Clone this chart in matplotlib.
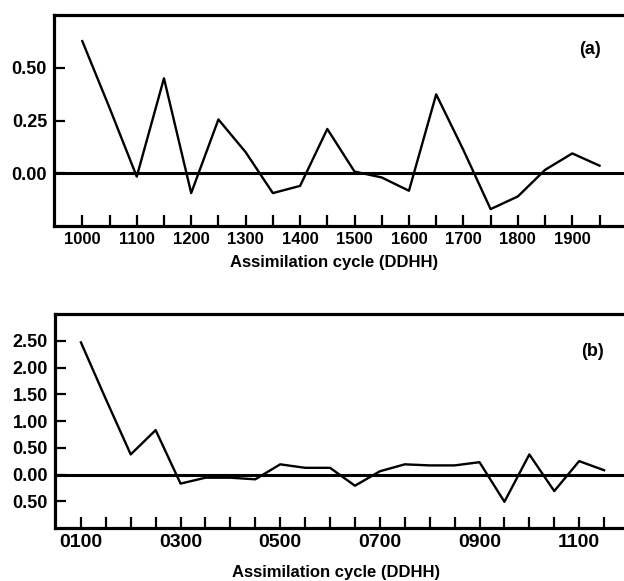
import matplotlib
matplotlib.use('Agg')
import matplotlib.pyplot as plt
from matplotlib.ticker import FixedLocator

plt.rcParams['font.family'] = ['Liberation Sans', 'DejaVu Sans']
plt.rcParams['font.weight'] = 'bold'
plt.rcParams['font.size'] = 12

# panel (a) - cycles every 6 h, labelled DDHH
cycles_a = [1000, 1050, 1100, 1150, 1200, 1250, 1300, 1350, 1400, 1450,
            1500, 1550, 1600, 1650, 1700, 1750, 1800, 1850, 1900, 1950]
values_a = [0.626, 0.31, -0.016, 0.45, -0.094, 0.255, 0.10, -0.094, -0.06, 0.21,
            0.008, -0.02, -0.083, 0.374, 0.11, -0.17, -0.11, 0.016, 0.094, 0.036]
yticks_a = [0.0, 0.25, 0.5]
ylabels_a = ['0.00', '0.25', '0.50']
xlabels_a = [1000, 1100, 1200, 1300, 1400, 1500, 1600, 1700, 1800, 1900]

# panel (b)
cycles_b = [100, 150, 200, 250, 300, 350, 400, 450, 500, 550, 600,
            650, 700, 750, 800, 850, 900, 950, 1000, 1050, 1100, 1150]
values_b = [2.47, 1.41, 0.375, 0.83, -0.17, -0.06, -0.06, -0.09, 0.19, 0.125, 0.125,
            -0.21, 0.06, 0.19, 0.17, 0.17, 0.23, -0.51, 0.375, -0.31, 0.25, 0.08]
yticks_b = [-0.5, 0.0, 0.5, 1.0, 1.5, 2.0, 2.5]
ylabels_b = ['0.50', '0.00', '0.50', '1.00', '1.50', '2.00', '2.50']
xlabels_b = [100, 300, 500, 700, 900, 1100]

W, H = 624, 581
fig = plt.figure(figsize=(W / 100, H / 100), dpi=100)


def panel(rect, x, y, xlim, ylim, yticks, ylabels, xlabs, tag, fmt, tag_xy, xsize):
    ax = fig.add_axes(rect)
    ax.plot(x, y, color='black', lw=1.7)
    ax.axhline(0, color='black', lw=2.2)
    ax.set_xlim(*xlim)
    ax.set_ylim(*ylim)
    ax.spines['right'].set_visible(False)
    for s in ['left', 'top', 'bottom']:
        ax.spines[s].set_linewidth(2.3)
    ax.xaxis.set_major_locator(FixedLocator(x))
    ax.set_xticklabels([fmt % v if v in xlabs else '' for v in x], fontsize=xsize)
    ax.tick_params(axis='x', direction='in', length=8, width=1.6, pad=4)
    ax.set_yticks(yticks)
    ax.set_yticklabels(ylabels, fontsize=13)
    ax.tick_params(axis='y', direction='in', length=8, width=1.6, pad=5)
    fig.text(tag_xy[0] / W, 1 - tag_xy[1] / H, tag, ha='center', va='center', fontsize=13)
    return ax


panel([54 / W, 1 - 226 / H, 1 - 54 / W, 211 / H], cycles_a, values_a,
      (948, 1995), (-0.25, 0.75), yticks_a, ylabels_a, xlabels_a, '(a)', '%d', (590, 50), 12)
fig.text(334 / W, 1 - 262 / H, 'Assimilation cycle (DDHH)', ha='center', va='center')

panel([55 / W, 1 - 528 / H, 1 - 55 / W, 214 / H], cycles_b, values_b,
      (48, 1190), (-1.0, 3.0), yticks_b, ylabels_b, xlabels_b, '(b)', '%04d', (592, 351), 14)
fig.text(336 / W, 1 - 572 / H, 'Assimilation cycle (DDHH)', ha='center', va='center')

fig.savefig('out.png', dpi=100)
